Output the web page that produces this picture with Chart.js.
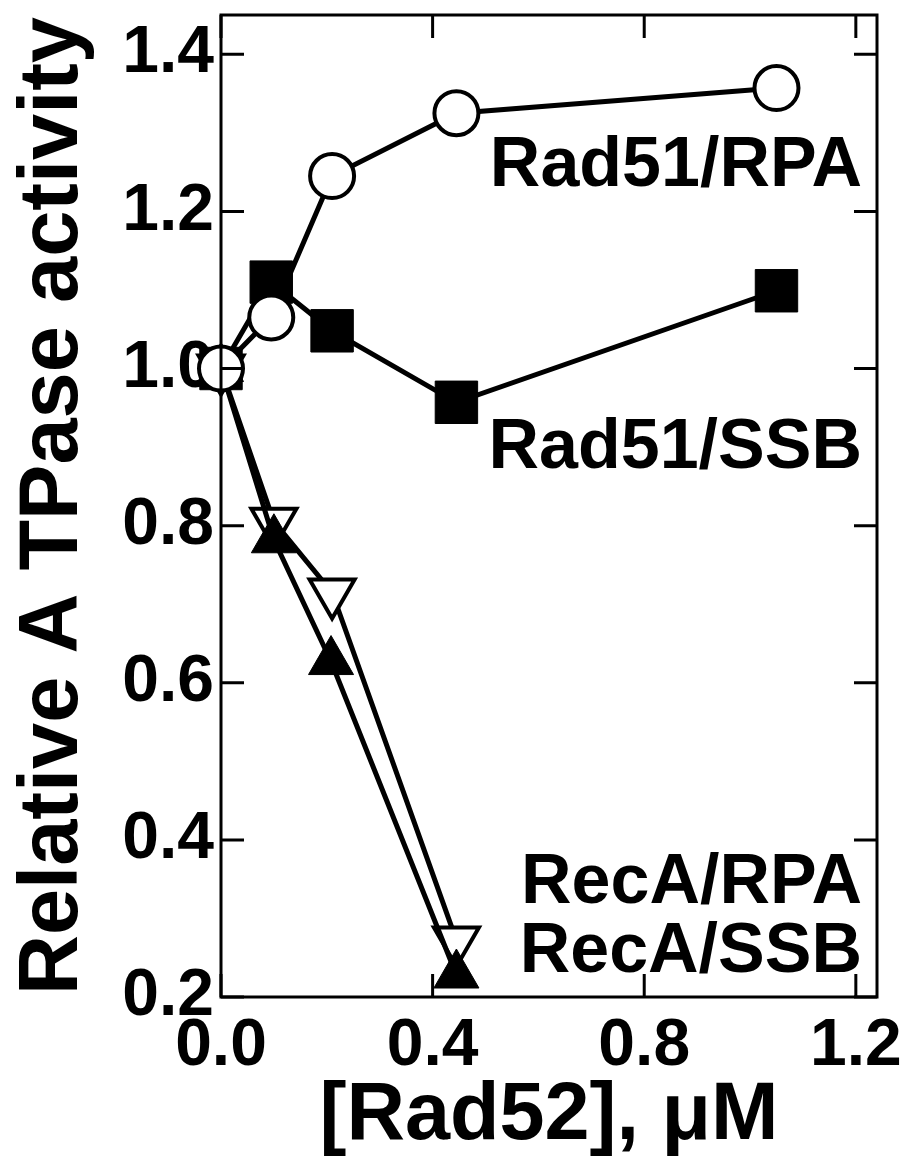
<!DOCTYPE html>
<html>
<head>
<meta charset="utf-8">
<script src="https://cdn.jsdelivr.net/npm/chart.js@4.4.0/dist/chart.umd.js"></script>
<style>
    html, body { margin: 0; padding: 0; background: #fff; }
    #wrap { width: 901px; height: 1163px; }
</style>
</head>
<body>
<div id="wrap"><canvas id="atpase-chart" width="901" height="1163"></canvas></div>
<script>
// Axis ticks
const xTicks = [0.0, 0.4, 0.8, 1.2];
const yTicks = [0.2, 0.4, 0.6, 0.8, 1.0, 1.2, 1.4];

// Series
const seriesNames = ['Rad51/RPA', 'Rad51/SSB', 'RecA/RPA', 'RecA/SSB'];
const rad51RpaX = [0, 0.095, 0.21, 0.445, 1.05];
const rad51RpaY = [1.0, 1.065, 1.245, 1.325, 1.357];
const rad51SsbX = [0, 0.095, 0.21, 0.445, 1.05];
const rad51SsbY = [1.0, 1.11, 1.048, 0.957, 1.099];
const recaRpaX = [0, 0.1, 0.21, 0.445];
const recaRpaY = [1.0, 0.805, 0.715, 0.272];
const recaSsbX = [0, 0.1, 0.208, 0.445];
const recaSsbY = [1.0, 0.782, 0.627, 0.228];

const FONT = '"Liberation Sans", Arial, Helvetica, sans-serif';

function toPoints(xs, ys) {
    return xs.map((v, i) => ({ x: v, y: ys[i] }));
}

// Frame with inward ticks on all four sides, drawn over the data
const framePlugin = {
    id: 'frame',
    afterDraw(chart) {
        const { ctx, chartArea: a, scales } = chart;
        const len = 23;
        ctx.save();
        ctx.strokeStyle = '#000';
        ctx.lineWidth = 3;
        ctx.strokeRect(a.left, a.top, a.right - a.left, a.bottom - a.top);
        ctx.beginPath();
        xTicks.forEach(v => {
            const px = scales.x.getPixelForValue(v);
            ctx.moveTo(px, a.bottom); ctx.lineTo(px, a.bottom - len);
            ctx.moveTo(px, a.top); ctx.lineTo(px, a.top + len);
        });
        yTicks.forEach(v => {
            const py = scales.y.getPixelForValue(v);
            ctx.moveTo(a.left, py); ctx.lineTo(a.left + len, py);
            ctx.moveTo(a.right, py); ctx.lineTo(a.right - len, py);
        });
        ctx.stroke();

        // series names
        const anchors = [1.232, 0.873, 0.32, 0.232];
        ctx.fillStyle = '#000';
        ctx.font = 'bold 70px ' + FONT;
        ctx.textAlign = 'right';
        ctx.textBaseline = 'alphabetic';
        seriesNames.forEach((name, i) => {
            ctx.fillText(name, a.right - 15, scales.y.getPixelForValue(anchors[i]));
        });
        ctx.restore();
    }
};

const lineStyle = {
    showLine: true,
    borderColor: '#000',
    borderWidth: 5,
    pointBorderColor: '#000',
    pointBorderWidth: 4,
    clip: false
};

new Chart(document.getElementById('atpase-chart').getContext('2d'), {
    type: 'scatter',
    data: {
        datasets: [
            {
                ...lineStyle,
                label: seriesNames[0],
                data: toPoints(rad51RpaX, rad51RpaY),
                pointStyle: 'circle',
                pointRadius: 22,
                pointBackgroundColor: '#fff'
            },
            {
                ...lineStyle,
                label: seriesNames[3],
                data: toPoints(recaSsbX, recaSsbY),
                pointStyle: 'triangle',
                pointRadius: 26,
                pointBorderWidth: 1,
                pointBackgroundColor: '#000'
            },
            {
                ...lineStyle,
                label: seriesNames[2],
                data: toPoints(recaRpaX, recaRpaY),
                pointStyle: 'triangle',
                pointRotation: 180,
                pointRadius: 26,
                pointBackgroundColor: '#fff'
            },
            {
                ...lineStyle,
                label: seriesNames[1],
                data: toPoints(rad51SsbX, rad51SsbY),
                pointStyle: 'rect',
                pointRadius: 30,
                pointBorderWidth: 1,
                pointBackgroundColor: '#000'
            }
        ]
    },
    options: {
        responsive: false,
        animation: false,
        devicePixelRatio: 1,
        layout: {
            autoPadding: false,
            padding: { top: 15, right: 24, left: 0, bottom: 0 }
        },
        plugins: {
            legend: { display: false },
            tooltip: { enabled: false }
        },
        scales: {
            x: {
                type: 'linear',
                min: 0,
                max: 1.24,
                afterBuildTicks: scale => { scale.ticks = xTicks.map(v => ({ value: v })); },
                afterFit: scale => {
                    scale.height = 166;
                    scale.paddingLeft = 0;
                    scale.paddingRight = 0;
                },
                grid: { display: false, drawTicks: false },
                border: { display: false },
                ticks: {
                    color: '#000',
                    padding: 10,
                    maxRotation: 0,
                    font: { family: FONT, size: 66, weight: 'bold' },
                    callback: v => v.toFixed(1)
                },
                title: {
                    display: true,
                    text: '[Rad52], \u03BCM',
                    color: '#000',
                    padding: { top: 0, bottom: 6 },
                    font: { family: FONT, size: 81, weight: 'bold', lineHeight: 1 }
                }
            },
            y: {
                type: 'linear',
                min: 0.2,
                max: 1.45,
                afterBuildTicks: scale => { scale.ticks = yTicks.map(v => ({ value: v })); },
                afterFit: scale => {
                    scale.width = 221;
                    scale.paddingTop = 0;
                    scale.paddingBottom = 0;
                },
                grid: { display: false, drawTicks: false },
                border: { display: false },
                ticks: {
                    color: '#000',
                    padding: 7,
                    font: { family: FONT, size: 66, weight: 'bold' },
                    callback: v => v.toFixed(1)
                },
                title: {
                    display: true,
                    text: 'Relative A TPase activity',
                    color: '#000',
                    padding: { top: 13, bottom: 0 },
                    font: { family: FONT, size: 83, weight: 'bold', lineHeight: 1 }
                }
            }
        }
    },
    plugins: [framePlugin]
});
</script>
</body>
</html>
